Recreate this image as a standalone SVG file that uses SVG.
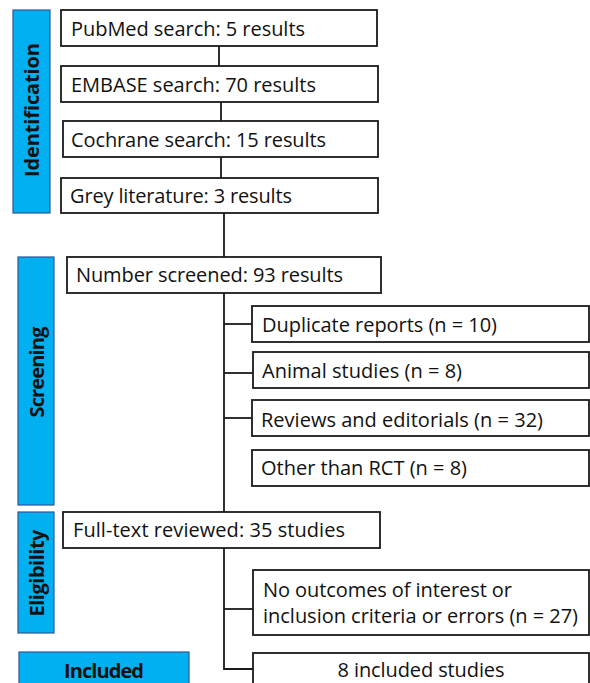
<svg xmlns="http://www.w3.org/2000/svg" width="590" height="683" viewBox="0 0 590 683">
<style>
.box{fill:#fff;stroke:#1a1a1a;stroke-width:1.8}
.bar{fill:#00b0f0;stroke:#2f5597;stroke-width:1.2}
.t{font-family:"Open Sans","Liberation Sans",sans-serif;font-size:20px;fill:#111}
.lb{font-family:"Open Sans","Liberation Sans",sans-serif;font-size:20px;font-weight:bold;fill:#111;text-anchor:middle}
.c{stroke:#1a1a1a;stroke-width:1.8;fill:none}
</style>
<rect width="590" height="683" fill="#fff"/>
<g id="connectors">
<path class="c" d="M219 46V66"/>
<path class="c" d="M221 102V121"/>
<path class="c" d="M221 157V178"/>
<path class="c" d="M224 213V257"/>
<path class="c" d="M224 293V512"/>
<path class="c" d="M224 324H253"/>
<path class="c" d="M224 373H253"/>
<path class="c" d="M224 418H253"/>
<path class="c" d="M224 548V669H253"/>
<path class="c" d="M224 609H253"/>
</g>
<g id="stage-identification">
<rect class="bar" x="13" y="10" width="37" height="203"/>
<text class="lb" transform="translate(39 110) rotate(-90)" textLength="134">Identification</text>
</g>
<g id="stage-screening">
<rect class="bar" x="18" y="257" width="36" height="248"/>
<text class="lb" transform="translate(44 372) rotate(-90)" textLength="91">Screening</text>
</g>
<g id="stage-eligibility">
<rect class="bar" x="18" y="512" width="36" height="121"/>
<text class="lb" transform="translate(44 573) rotate(-90)" textLength="87">Eligibility</text>
</g>
<g id="stage-included">
<rect class="bar" x="19" y="652" width="170" height="40"/>
<text class="lb" x="104" y="678" textLength="80">Included</text>
</g>
<g id="pubmed">
<rect class="box" x="61" y="10" width="316" height="36"/>
<text class="t" x="71" y="36" textLength="234">PubMed search: 5 results</text>
</g>
<g id="embase">
<rect class="box" x="61" y="66" width="317" height="36"/>
<text class="t" x="71" y="92" textLength="245">EMBASE search: 70 results</text>
</g>
<g id="cochrane">
<rect class="box" x="63" y="121" width="315" height="36"/>
<text class="t" x="71" y="147" textLength="255">Cochrane search: 15 results</text>
</g>
<g id="grey">
<rect class="box" x="61" y="178" width="317" height="35"/>
<text class="t" x="70" y="203" textLength="222">Grey literature: 3 results</text>
</g>
<g id="screened">
<rect class="box" x="67" y="257" width="314" height="36"/>
<text class="t" x="76" y="282" textLength="267">Number screened: 93 results</text>
</g>
<g id="duplicate">
<rect class="box" x="252" y="306" width="337" height="36"/>
<text class="t" x="262" y="332" textLength="235">Duplicate reports (n = 10)</text>
</g>
<g id="animal">
<rect class="box" x="253" y="352" width="336" height="36"/>
<text class="t" x="262" y="378" textLength="200">Animal studies (n = 8)</text>
</g>
<g id="reviews">
<rect class="box" x="252" y="400" width="337" height="36"/>
<text class="t" x="261" y="427" textLength="282">Reviews and editorials (n = 32)</text>
</g>
<g id="other">
<rect class="box" x="252" y="450" width="337" height="36"/>
<text class="t" x="261" y="475" textLength="206">Other than RCT (n = 8)</text>
</g>
<g id="fulltext">
<rect class="box" x="63" y="512" width="317" height="36"/>
<text class="t" x="73" y="537" textLength="272">Full-text reviewed: 35 studies</text>
</g>
<g id="nooutcomes">
<rect class="box" x="253" y="570" width="336" height="65"/>
<text class="t" x="263" y="597" textLength="249">No outcomes of interest or</text>
<text class="t" x="263" y="623" textLength="315">inclusion criteria or errors (n = 27)</text>
</g>
<g id="included">
<rect class="box" x="253" y="653" width="336" height="40"/>
<text class="t" x="421" y="677" text-anchor="middle" textLength="167">8 included studies</text>
</g>
</svg>
